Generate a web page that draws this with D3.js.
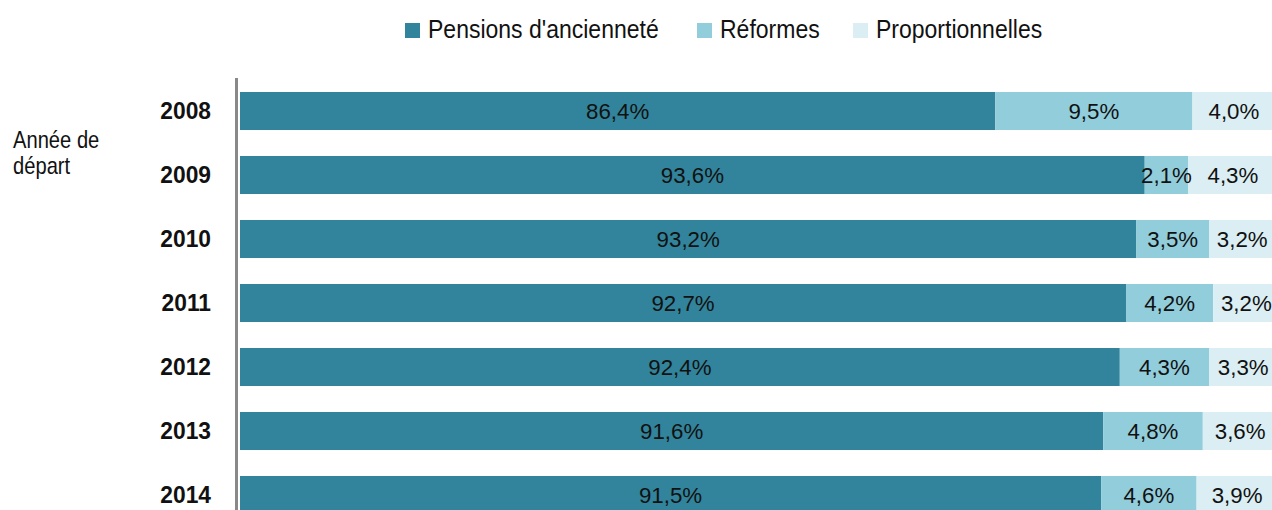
<!DOCTYPE html>
<html>
<head>
<meta charset="utf-8">
<script src="https://cdn.jsdelivr.net/npm/d3@7"></script>
<style>
  body { margin: 0; background: #fff; }
  svg text { font-family: "Liberation Sans", Arial, sans-serif; fill: #111; }
</style>
</head>
<body>
<div id="chart"></div>
<script>
// data
var years = ['2008', '2009', '2010', '2011', '2012', '2013', '2014'];
var anciennete = [86.4, 93.6, 93.2, 92.7, 92.4, 91.6, 91.5];
var reformes = [9.5, 2.1, 3.5, 4.2, 4.3, 4.8, 4.6];
var proportionnelles = [4.0, 4.3, 3.2, 3.2, 3.3, 3.6, 3.9];
var seriesNames = ["Pensions d'ancienneté", 'Réformes', 'Proportionnelles'];
var seriesKeys = ['anc', 'ref', 'prop'];

var colors = ['#31849b', '#92cddc', '#daeef3'];

var svgWidth = 1272, svgHeight = 510;

var rows = years.map(function (y, i) {
    return { year: y, anc: anciennete[i], ref: reformes[i], prop: proportionnelles[i] };
});

var svg = d3.select('#chart').append('svg')
    .attr('width', svgWidth)
    .attr('height', svgHeight);

// the value axis starts at 50%
var x = d3.scaleLinear().domain([50, 100]).range([240, 1277.5]);
var y = d3.scaleBand().domain(years).range([79, 79 + 64 * years.length])
    .paddingInner(0.40625).paddingOuter(0.203125);

// condensed look: squeeze text horizontally around its anchor
function place(sel, fx, fy, sx) {
    sel.attr('transform', (d, i) => 'translate(' + fx(d, i) + ',' + fy(d, i) + ') scale(' + sx + ',1)');
}

var stacked = d3.stack().keys(seriesKeys)(rows);

var groups = svg.selectAll('g.series')
    .data(stacked)
    .enter().append('g')
    .attr('class', 'series')
    .attr('fill', (d, i) => colors[i]);

groups.selectAll('rect')
    .data(d => d)
    .enter().append('rect')
    .attr('x', d => x(Math.max(d[0], 50)))
    .attr('y', d => y(d.data.year))
    .attr('width', d => x(d[1]) - x(Math.max(d[0], 50)))
    .attr('height', y.bandwidth());

// value labels, centred in each segment
stacked.forEach(function (s) {
    var t = svg.append('g').selectAll('text')
        .data(s)
        .enter().append('text')
        .attr('dy', '0.36em')
        .attr('text-anchor', 'middle')
        .style('font-size', '23px')
        .text(d => d3.format('.1f')(d[1] - d[0]).replace('.', ',') + '%');
    place(t, d => (x(Math.max(d[0], 50)) + x(d[1])) / 2,
        d => y(d.data.year) + y.bandwidth() / 2, 0.97);
});

// vertical axis line
svg.append('line')
    .attr('x1', 236.5).attr('x2', 236.5)
    .attr('y1', 78).attr('y2', svgHeight)
    .attr('stroke', '#898989')
    .attr('stroke-width', 3);

// year labels
var yl = svg.append('g').selectAll('text')
    .data(years)
    .enter().append('text')
    .attr('dy', '0.35em')
    .attr('text-anchor', 'end')
    .style('font-size', '24px')
    .style('font-weight', 'bold')
    .text(d => d);
place(yl, () => 211, d => y(d) + y.bandwidth() / 2, 0.95);

// axis title
var title = svg.append('g').selectAll('text')
    .data(['Année de', 'départ'])
    .enter().append('text')
    .style('font-size', '24px')
    .text(d => d);
place(title, () => 13, (d, i) => 148 + i * 26, 0.84);

// legend
var legendX = [405, 697, 853];
var legend = svg.append('g').selectAll('g')
    .data(seriesNames)
    .enter().append('g')
    .attr('transform', (d, i) => 'translate(' + legendX[i] + ',0)');

legend.append('rect')
    .attr('x', 0).attr('y', 23)
    .attr('width', 15).attr('height', 15)
    .attr('fill', (d, i) => colors[i]);

var lt = legend.append('text')
    .style('font-size', '25px')
    .text(d => d);
place(lt, () => 23, () => 38, 0.92);
</script>
</body>
</html>
